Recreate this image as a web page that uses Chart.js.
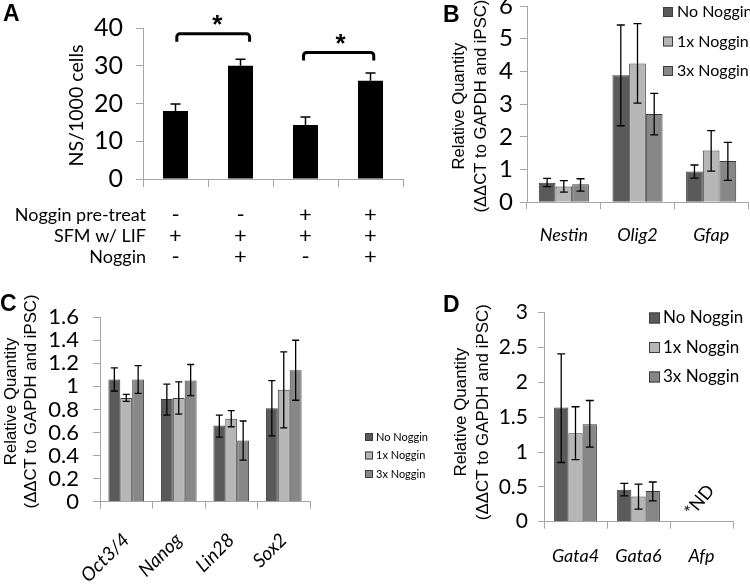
<!DOCTYPE html>
<html>
<head>
<meta charset="utf-8">
<script src="https://cdn.jsdelivr.net/npm/chart.js@4.4.0/dist/chart.umd.min.js"></script>
<style>
  html, body { margin: 0; padding: 0; background: #fff; }
  body { width: 750px; height: 586px; position: relative; overflow: hidden; }
  canvas { position: absolute; }
  .tag { position: absolute; z-index: 5; font: bold 23px "Liberation Sans", Arial, sans-serif; line-height: 1; }
</style>
</head>
<body>
<canvas id="chartA" width="420" height="290" style="left:0;top:0"></canvas>
<canvas id="chartB" width="370" height="310" style="left:380px;top:-20px"></canvas>
<canvas id="chartC" width="450" height="296" style="left:0;top:290px"></canvas>
<canvas id="chartD" width="370" height="296" style="left:380px;top:290px"></canvas>
<div class="tag" style="left:3px;top:2px">A</div>
<div class="tag" style="left:443px;top:3px">B</div>
<div class="tag" style="left:0;top:292px">C</div>
<div class="tag" style="left:443px;top:293px">D</div>
<script>
/* ---------- data ---------- */

// panel A: neurospheres per 1000 cells
const aRowNames = ["Noggin pre-treat", "SFM w/ LIF", "Noggin"];
const aPreTreat = ["-", "-", "+", "+"];
const aSfmLif   = ["+", "+", "+", "+"];
const aNoggin   = ["-", "+", "-", "+"];
const aValues   = [18, 30, 14.3, 26];
const aErrHigh  = [19.9, 31.7, 16.4, 28.1];

const seriesNames = ["No Noggin", "1x Noggin", "3x Noggin"];

// panel B: neural markers
const bGenes  = ["Nestin", "Olig2", "Gfap"];
const bNo     = [0.60, 3.88, 0.94];
const bNoLo   = [0.48, 2.34, 0.74];
const bNoHi   = [0.73, 5.42, 1.14];
const b1x     = [0.48, 4.24, 1.58];
const b1xLo   = [0.31, 3.03, 0.95];
const b1xHi   = [0.66, 5.46, 2.19];
const b3x     = [0.55, 2.70, 1.26];
const b3xLo   = [0.34, 2.06, 0.67];
const b3xHi   = [0.72, 3.33, 1.83];

// panel C: pluripotency markers
const cGenes  = ["Oct3/4", "Nanog", "Lin28", "Sox2"];
const cNo     = [1.06, 0.89, 0.66, 0.81];
const cNoLo   = [0.96, 0.75, 0.56, 0.57];
const cNoHi   = [1.16, 1.02, 0.75, 1.05];
const c1x     = [0.90, 0.90, 0.72, 0.97];
const c1xLo   = [0.87, 0.76, 0.65, 0.64];
const c1xHi   = [0.93, 1.04, 0.79, 1.30];
const c3x     = [1.06, 1.05, 0.53, 1.14];
const c3xLo   = [0.94, 0.92, 0.36, 0.88];
const c3xHi   = [1.18, 1.19, 0.70, 1.40];

// panel D: endoderm markers (Afp not detected)
const dGenes  = ["Gata4", "Gata6", "Afp"];
const dNo     = [1.64, 0.46, 0.01];
const dNoLo   = [0.85, 0.37, null];
const dNoHi   = [2.41, 0.55, null];
const d1x     = [1.27, 0.36, 0.01];
const d1xLo   = [0.89, 0.18, null];
const d1xHi   = [1.65, 0.54, null];
const d3x     = [1.40, 0.44, 0.01];
const d3xLo   = [1.07, 0.30, null];
const d3xHi   = [1.74, 0.57, null];

/* ---------- styles ---------- */

const AXIS = "#a6a6a6";
const EDGE = "#3c3c3c";
const FILLS = ["#5a5a5a", "#b6b6b6", "#878787"];
const CALIBRI = "Lato, 'Open Sans', sans-serif";
const ARIAL = "'Liberation Sans', Arial, sans-serif";
const ND_TURN = -50 * Math.PI / 180;

/* ---------- plugins ---------- */

const errorBars = {
    id: "errorBars",
    afterDatasetsDraw(chart, args, o) {
        const ctx = chart.ctx, y = chart.scales.y;
        ctx.save();
        ctx.strokeStyle = "#000";
        ctx.lineWidth = o.width;
        chart.data.datasets.forEach((ds, i) => {
            if (!ds.errHigh) return;
            chart.getDatasetMeta(i).data.forEach((bar, j) => {
                if (ds.errHigh[j] == null) return;
                const top = y.getPixelForValue(ds.errHigh[j]);
                const bot = ds.errLow ? y.getPixelForValue(ds.errLow[j]) : bar.y;
                const c = o.cap / 2;
                ctx.beginPath();
                ctx.moveTo(bar.x, top); ctx.lineTo(bar.x, bot);
                ctx.moveTo(bar.x - c, top); ctx.lineTo(bar.x + c, top);
                if (ds.errLow) { ctx.moveTo(bar.x - c, bot); ctx.lineTo(bar.x + c, bot); }
                ctx.stroke();
            });
        });
        ctx.restore();
    }
};

const boxLegend = {
    id: "boxLegend",
    afterDraw(chart, args, o) {
        if (!o.x) return;
        const ctx = chart.ctx;
        ctx.save();
        ctx.font = o.font;
        ctx.textBaseline = "middle";
        chart.data.datasets.forEach((ds, i) => {
            const cy = o.y + i * o.dy;
            ctx.fillStyle = ds.backgroundColor;
            ctx.fillRect(o.x, cy - o.box / 2, o.box, o.box);
            ctx.strokeStyle = ds.borderColor;
            ctx.lineWidth = 1;
            ctx.strokeRect(o.x + 0.5, cy - o.box / 2 + 0.5, o.box - 1, o.box - 1);
            ctx.fillStyle = "#000";
            ctx.fillText(ds.label, o.x + o.box + o.gap, cy);
        });
        ctx.restore();
    }
};

// vertical axis title; font size chosen so the longest line spans o.span px
const sideTitle = {
    id: "sideTitle",
    afterDraw(chart, args, o) {
        const ctx = chart.ctx, area = chart.chartArea;
        ctx.save();
        ctx.font = "20px " + o.family;
        const widest = Math.max(...o.lines.map(l => ctx.measureText(l).width));
        const size = 20 * o.span / widest;
        ctx.font = size.toFixed(2) + "px " + o.family;
        ctx.fillStyle = "#000";
        ctx.textAlign = "center";
        ctx.textBaseline = "middle";
        o.lines.forEach((line, i) => {
            ctx.save();
            ctx.translate(o.x + i * o.lh, (area.top + area.bottom) / 2 + o.dy);
            ctx.rotate(-Math.PI / 2);
            ctx.fillText(line, 0, 0);
            ctx.restore();
        });
        ctx.restore();
    }
};

// row headers of the treatment table under panel A
const tableRows = {
    id: "tableRows",
    afterDraw(chart, args, o) {
        const x = chart.scales.x, ctx = chart.ctx;
        const lh = Chart.helpers.toFont(x.options.ticks.font).lineHeight;
        const y0 = x.top + x.options.grid.tickLength + x.options.ticks.padding;
        ctx.save();
        ctx.font = o.font;
        ctx.fillStyle = "#000";
        ctx.textAlign = "right";
        ctx.textBaseline = "middle";
        o.rows.forEach((name, i) => {
            ctx.fillText(name, chart.chartArea.left + 3, y0 + lh * (i + 0.5));
        });
        ctx.restore();
    }
};

// significance brackets with stars
const brackets = {
    id: "brackets",
    afterDraw(chart, args, o) {
        const { x, y } = chart.scales, ctx = chart.ctx;
        ctx.save();
        ctx.strokeStyle = "#000";
        ctx.lineWidth = 3;
        ctx.lineJoin = "round";
        o.items.forEach(b => {
            const x1 = x.getPixelForValue(b.from), x2 = x.getPixelForValue(b.to);
            const yt = y.getPixelForValue(b.at), yb = y.getPixelForValue(b.at - b.drop);
            ctx.beginPath();
            ctx.moveTo(x1, yb);
            ctx.arcTo(x1, yt, x2, yt, 3);
            ctx.arcTo(x2, yt, x2, yb, 3);
            ctx.lineTo(x2, yb);
            ctx.stroke();
            ctx.font = o.font;
            ctx.fillStyle = "#000";
            ctx.textAlign = "center";
            ctx.textBaseline = "alphabetic";
            ctx.fillText("*", (x1 + x2) / 2 + b.shift, yt - o.gap);
        });
        ctx.restore();
    }
};

// rotated "*ND" note over Afp
const note = {
    id: "note",
    afterDraw(chart, args, o) {
        if (!o.text) return;
        const { x, y } = chart.scales, ctx = chart.ctx;
        const px = x.getPixelForValue(o.at) + o.dx, py = y.getPixelForValue(o.value);
        ctx.save();
        ctx.font = o.font;
        ctx.fillStyle = "#000";
        ctx.textAlign = "center";
        ctx.textBaseline = "middle";
        ctx.translate(px, py);
        ctx.rotate(ND_TURN);
        ctx.fillText(o.text, 0, 0);
        ctx.restore();
    }
};

/* ---------- helpers ---------- */

function panelScales(o) {
    return {
        x: {
            grid: { display: true, drawOnChartArea: false, offset: true, tickLength: o.xTick, color: AXIS },
            border: { color: AXIS },
            ticks: {
                color: "#000", font: o.xFont, padding: o.xPad, autoSkip: false,
                minRotation: o.rot || 0, maxRotation: o.rot || 0
            },
            afterFit: s => { s.height = o.xHeight; }
        },
        y: {
            min: 0, max: o.max,
            ticks: {
                stepSize: o.step, color: "#000", font: o.yFont, padding: o.yPad, autoSkip: false,
                callback: v => String(Number(v.toFixed(2)))
            },
            grid: { drawOnChartArea: false, tickLength: o.yTick, color: AXIS },
            border: { color: AXIS },
            afterFit: s => { s.width = o.yWidth; }
        }
    };
}

function groupSets(values, lows, highs) {
    return values.map((v, i) => ({
        label: seriesNames[i],
        data: v,
        errLow: lows[i],
        errHigh: highs[i],
        backgroundColor: FILLS[i],
        borderColor: EDGE,
        borderWidth: 1,
        categoryPercentage: 0.68,
        barPercentage: 1
    }));
}

const qTitle = ["Relative Quantity", "(\u0394\u0394CT to GAPDH and iPSC)"];

/* ---------- panel A ---------- */

new Chart(document.getElementById("chartA"), {
    type: "bar",
    data: {
        labels: aPreTreat.map((p, i) => [p, aSfmLif[i], aNoggin[i]]),
        datasets: [{
            data: aValues,
            errHigh: aErrHigh,
            backgroundColor: "#000",
            borderWidth: 0,
            categoryPercentage: 1,
            barPercentage: 0.385
        }]
    },
    options: {
        responsive: false,
        animation: false,
        layout: { padding: { top: 24, right: 17, bottom: 0, left: 0 } },
        plugins: {
            legend: { display: false },
            tooltip: { enabled: false },
            errorBars: { width: 1.5, cap: 10 },
            tableRows: { rows: aRowNames, font: "18px " + CALIBRI },
            sideTitle: { lines: ["NS/1000 cells"], family: CALIBRI, span: 122, x: 77, lh: 0, dy: 2 },
            brackets: {
                font: "bold 26px " + ARIAL, gap: 1,
                items: [
                    { from: 0.02, to: 1.14, at: 38.45, drop: 2.1, shift: 4 },
                    { from: 1.97, to: 3.05, at: 33.5, drop: 2.1, shift: 2 }
                ]
            }
        },
        scales: panelScales({
            max: 40, step: 10,
            yFont: { family: CALIBRI, size: 25 }, yPad: 13, yTick: 7, yWidth: 143,
            xFont: { family: CALIBRI, size: 22, lineHeight: "21px" }, xPad: 17.5, xTick: 8, xHeight: 111
        })
    },
    plugins: [errorBars, tableRows, brackets, sideTitle]
});

/* ---------- panel B ---------- */

new Chart(document.getElementById("chartB"), {
    type: "bar",
    data: {
        labels: bGenes,
        datasets: groupSets([bNo, b1x, b3x], [bNoLo, b1xLo, b3xLo], [bNoHi, b1xHi, b3xHi])
    },
    options: {
        responsive: false,
        animation: false,
        layout: { padding: { top: 26, right: 2, bottom: 0, left: 0 } },
        plugins: {
            legend: { display: false },
            tooltip: { enabled: false },
            errorBars: { width: 1.3, cap: 8 },
            boxLegend: { x: 283, y: 32, dy: 29.5, box: 10, gap: 4, font: "16px " + CALIBRI },
            sideTitle: { lines: qTitle, family: ARIAL, span: 213, x: 79, lh: 22, dy: 2 }
        },
        scales: panelScales({
            max: 6, step: 1,
            yFont: { family: CALIBRI, size: 24 }, yPad: 7, yTick: 7, yWidth: 147,
            xFont: { family: CALIBRI, size: 18, style: "italic" }, xPad: 15, xTick: 7, xHeight: 87.7
        })
    },
    plugins: [errorBars, boxLegend, sideTitle]
});

/* ---------- panel C ---------- */

new Chart(document.getElementById("chartC"), {
    type: "bar",
    data: {
        labels: cGenes,
        datasets: groupSets([cNo, c1x, c3x], [cNoLo, c1xLo, c3xLo], [cNoHi, c1xHi, c3xHi])
    },
    options: {
        responsive: false,
        animation: false,
        layout: { padding: { top: 24, right: 140, bottom: 0, left: 0 } },
        plugins: {
            legend: { display: false },
            tooltip: { enabled: false },
            errorBars: { width: 1.3, cap: 7 },
            boxLegend: { x: 365, y: 147, dy: 18.5, box: 8, gap: 3, font: "11px " + CALIBRI },
            sideTitle: { lines: qTitle, family: ARIAL, span: 214, x: 11, lh: 20, dy: -8 }
        },
        scales: panelScales({
            max: 1.6, step: 0.2,
            yFont: { family: CALIBRI, size: 22 }, yPad: 14, yTick: 7, yWidth: 100,
            xFont: { family: CALIBRI, size: 19, style: "italic" }, xPad: 20, xTick: 7, xHeight: 84.3, rot: 45
        })
    },
    plugins: [errorBars, boxLegend, sideTitle]
});

/* ---------- panel D ---------- */

new Chart(document.getElementById("chartD"), {
    type: "bar",
    data: {
        labels: dGenes,
        datasets: groupSets([dNo, d1x, d3x], [dNoLo, d1xLo, d3xLo], [dNoHi, d1xHi, d3xHi])
    },
    options: {
        responsive: false,
        animation: false,
        layout: { padding: { top: 22.7, right: 17, bottom: 0, left: 0 } },
        plugins: {
            legend: { display: false },
            tooltip: { enabled: false },
            errorBars: { width: 1.3, cap: 8 },
            boxLegend: { x: 269, y: 28, dy: 29.5, box: 11, gap: 3, font: "17px " + CALIBRI },
            sideTitle: { lines: qTitle, family: ARIAL, span: 216, x: 81, lh: 22, dy: -5 },
            note: { text: "*ND", at: 2, dx: -2, value: 0.3, font: "18px " + CALIBRI }
        },
        scales: panelScales({
            max: 3, step: 0.5,
            yFont: { family: CALIBRI, size: 21 }, yPad: 10, yTick: 6, yWidth: 164,
            xFont: { family: CALIBRI, size: 18, style: "italic" }, xPad: 17, xTick: 7, xHeight: 64.3
        })
    },
    plugins: [errorBars, boxLegend, note, sideTitle]
});
</script>
</body>
</html>
